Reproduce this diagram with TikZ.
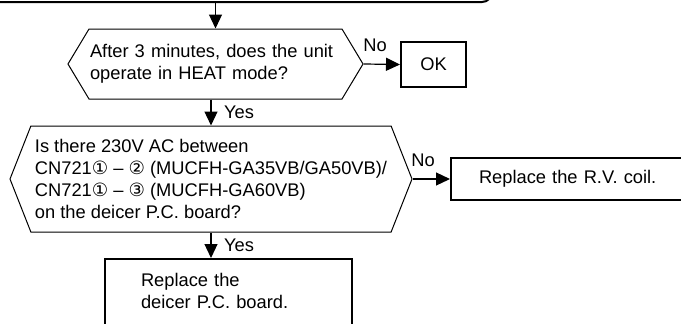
\documentclass[tikz,border=0pt]{standalone}
\usepackage{fontspec}
\setmainfont{Liberation Sans}
\newfontfamily\circfont{DejaVu Sans}
\usetikzlibrary{positioning,arrows.meta,shapes.symbols,calc}
\tikzset{
decision/.style={
draw,
signal,
signal to=west and east,
line width=1pt,
inner sep=0pt,
align=left,
font=\fontsize{18.3}{22}\selectfont
},
action/.style={
draw,
line width=2pt,
inner sep=0pt,
align=left,
font=\fontsize{18.3}{22}\selectfont
},
arrow/.style={
-{Triangle[length=14pt,width=13pt]},
line width=1.2pt
},
lbl/.style={
inner sep=0pt,
font=\fontsize{18.3}{22}\selectfont
}
}
\newcommand{\pin}[1]{{\circfont #1}}

\begin{document}
\begin{tikzpicture}[x=1pt,y=-1pt]
\useasboundingbox (0,0) rectangle (681,324);
% box of the step before, cut by the page
\node[draw,line width=2pt,rounded corners=10pt,minimum width=520pt,minimum height=60pt](prev) at (232,-28){};

\node[decision,signal pointer angle=118,inner xsep=1pt,text width=251pt,minimum width=295pt,minimum height=70pt](heat) at (215.5,64)
{After 3 minutes, does the unit\\operate in HEAT mode?};
\node[action,minimum width=65pt,minimum height=45pt](ok) at (433.5,64.5){OK};
\node[decision,signal pointer angle=137,minimum width=402pt,minimum height=106pt](volt) at (211,179)
{Is there 230V AC between\\
CN721\pin{①} – \pin{②} (MUCFH-GA35VB/GA50VB)/\\
CN721\pin{①} – \pin{③} (MUCFH-GA60VB)\\
on the deicer P.C. board?};
\node[action,anchor=west,inner xsep=28pt,text width=194pt,minimum height=42pt](coil) at (450,179)
{Replace the R.V. coil.};
\node[action,anchor=north west,inner xsep=36pt,inner ysep=14.5pt,text width=175pt,text height=13pt,text depth=60pt](board) at (104,258)
{Replace the\\deicer P.C. board.};

\draw[arrow](prev.south -| heat.north)--(heat.north);
\draw[arrow](heat.east)--(ok.west);
\draw[arrow](heat.south -| volt.north)--(volt.north);
\draw[arrow](volt.east)--(coil.west);
\draw[arrow](volt.south)--(volt.south |- board.north);

\node[lbl] at (375,45){No};
\node[lbl] at (239,112){Yes};
\node[lbl] at (423,160){No};
\node[lbl] at (239,245){Yes};
\end{tikzpicture}
\end{document}
